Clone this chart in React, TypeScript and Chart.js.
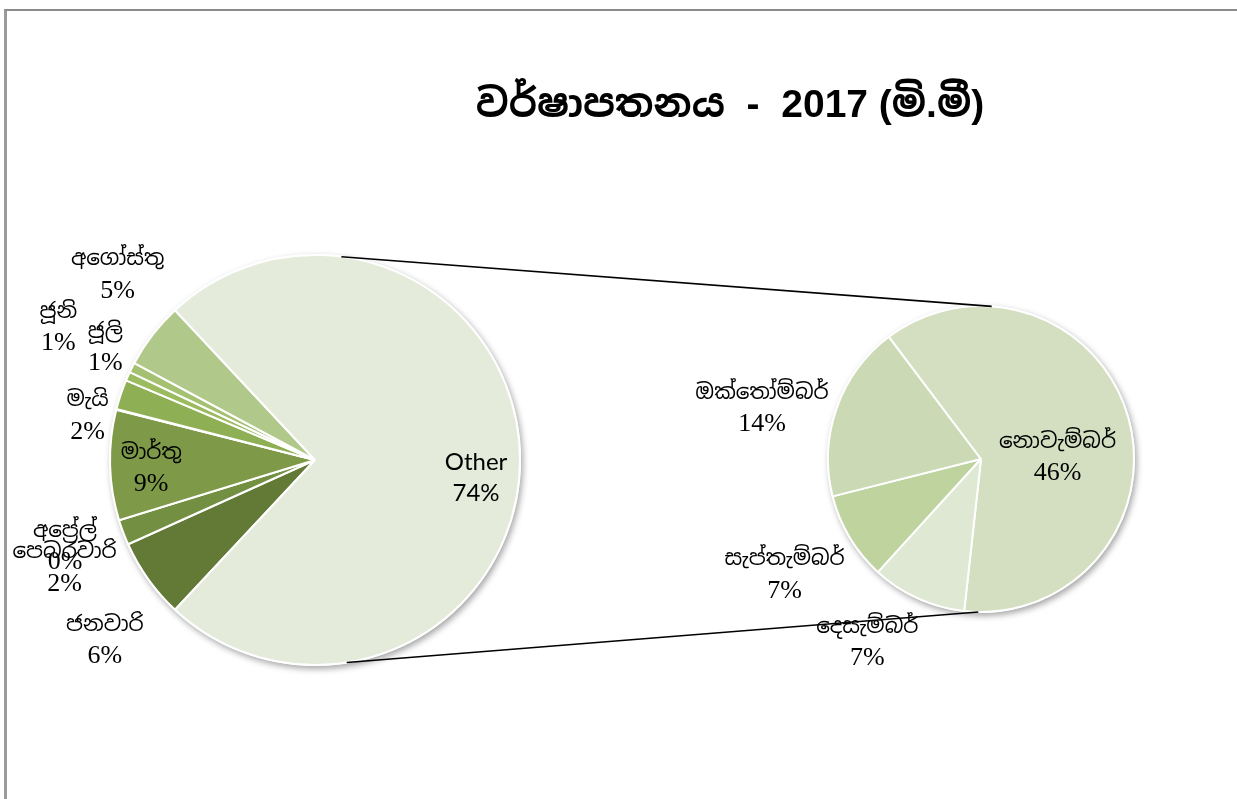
import React, { useEffect, useRef } from "react";
import { Chart, registerables } from "chart.js";
Chart.register(...registerables);

// ---- data (share of annual rainfall) ----
const monthLabels = ["ජනවාරි", "පෙබරවාරි", "මාර්තු", "අප්‍රේල්", "මැයි", "ජූනි", "ජූලි", "අගෝස්තු"];
const monthValues = [6.3, 2.0, 8.7, 0.05, 2.35, 0.7, 0.8, 5.2];
const otherLabel = "Other";
const splitLabels = ["සැප්තැම්බර්", "ඔක්තෝම්බර්", "නොවැම්බර්", "දෙසැම්බර්"];
const splitValues = [6.9, 13.8, 45.9, 7.4];
const titleText = "වර්ෂාපතනය  -  2017 (මි.මී)";

// ---- styles ----
const monthColors = ["#637a36", "#738f41", "#7e9a48", "#86a34c", "#8eaf53", "#9bbb5f", "#a4c171", "#b0c98a"];
const otherColor = "#e4ebdb";
const splitColors = ["#bfd39f", "#cbdab5", "#d3dfc0", "#dee8d2"];
// label placement: [angle nudge (deg), distance as a fraction of radius]
const leftLabelPlace: [number, number][] = [
  [-5, 1.35], [-2.6, 1.33], [-1.4, 0.8], [-33.4, 1.29], [-7.6, 1.13], [3.3, 1.41], [1.4, 1.16], [5.6, 1.32], [6, 0.79],
];
const rightLabelPlace: [number, number][] = [
  [0.4, 1.49], [-6.3, 1.47], [14, 0.5], [7.5, 1.41],
];

const W = 1237;
const H = 799;
const SERIF = "'Liberation Serif', 'Times New Roman', 'Noto Sans Sinhala', serif";

const sum = (a: number[]) => a.reduce((s, v) => s + v, 0);

function shadowPlugin(id: string) {
  return {
    id,
    beforeDatasetsDraw(chart: any) {
      const meta = chart.getDatasetMeta(0);
      const arc = meta.data[0];
      if (!arc) return;
      const { x, y, outerRadius } = arc.getProps(["x", "y", "outerRadius"], true);
      const ctx = chart.ctx;
      ctx.save();
      ctx.shadowColor = "rgba(0,0,0,0.35)";
      ctx.shadowBlur = 6;
      ctx.shadowOffsetX = 2;
      ctx.shadowOffsetY = 3;
      ctx.fillStyle = "#ffffff";
      ctx.beginPath();
      ctx.arc(x, y, outerRadius + 1, 0, Math.PI * 2);
      ctx.fill();
      ctx.restore();
    },
  };
}

function labelPlugin(id: string, place: [number, number][], total: number) {
  return {
    id,
    afterDatasetsDraw(chart: any) {
      const ctx = chart.ctx;
      const meta = chart.getDatasetMeta(0);
      const values = chart.data.datasets[0].data as number[];
      const labels = chart.data.labels as string[];
      meta.data.forEach((arc: any, i: number) => {
        const { x, y, startAngle, endAngle, outerRadius } = arc.getProps(
          ["x", "y", "startAngle", "endAngle", "outerRadius"], true);
        const [nudge, k] = place[i];
        const a = (startAngle + endAngle) / 2 + (nudge * Math.PI) / 180;
        const cx = x + Math.cos(a) * outerRadius * k;
        const cy = y + Math.sin(a) * outerRadius * k;
        const pct = Math.round((values[i] / total) * 100) + "%";
        const isLatin = labels[i] === otherLabel;
        ctx.save();
        ctx.fillStyle = "#000000";
        ctx.textAlign = "center";
        ctx.textBaseline = "middle";
        ctx.font = isLatin ? "24px Lato, 'Open Sans', sans-serif" : `21.5px ${SERIF}`;
        ctx.fillText(labels[i], cx, cy - 15);
        ctx.font = isLatin ? "24px Lato, 'Open Sans', sans-serif" : `26px ${SERIF}`;
        ctx.fillText(pct, cx, cy + 16);
        ctx.restore();
      });
    },
  };
}

export default function App() {
  const leftRef = useRef<HTMLCanvasElement>(null);
  const rightRef = useRef<HTMLCanvasElement>(null);

  useEffect(() => {
    const otherValue = sum(splitValues);
    const total = sum(monthValues) + otherValue;
    const monthsDeg = (sum(monthValues) / total) * 360;
    const splitStartDeg = 132.3;

    const titlePlugin = {
      id: "title",
      afterDraw(chart: any) {
        const ctx = chart.ctx;
        ctx.save();
        ctx.fillStyle = "#000000";
        ctx.textAlign = "center";
        ctx.textBaseline = "middle";
        ctx.font = "bold 39px 'Liberation Sans', Arial, 'Noto Sans Sinhala', sans-serif";
        ctx.fillText(titleText, 730, 106);
        ctx.restore();
      },
    };

    const left = new Chart(leftRef.current!, {
      type: "pie",
      data: {
        labels: [...monthLabels, otherLabel],
        datasets: [{
          data: [...monthValues, otherValue],
          backgroundColor: [...monthColors, otherColor],
          borderColor: "#ffffff",
          borderWidth: 2,
        }],
      },
      options: {
        responsive: false,
        animation: false,
        radius: 205,
        rotation: 90 + 180 - monthsDeg / 2,
        layout: { padding: { left: 0, right: 607, top: 121, bottom: 0 } },
        plugins: { legend: { display: false }, tooltip: { enabled: false }, title: { display: false } },
      },
      plugins: [shadowPlugin("shadowL"), labelPlugin("labelsL", leftLabelPlace, total), titlePlugin],
    });

    const connectorPlugin = {
      id: "connector",
      afterDatasetsDraw(chart: any) {
        const la = left.getDatasetMeta(0).data[0] as any;
        const ra = chart.getDatasetMeta(0).data[0] as any;
        if (!la || !ra) return;
        const L = la.getProps(["x", "y", "outerRadius"], true);
        const R = ra.getProps(["x", "y", "outerRadius"], true);
        const pt = (c: any, deg: number) => [
          c.x + Math.cos((deg * Math.PI) / 180) * c.outerRadius,
          c.y + Math.sin((deg * Math.PI) / 180) * c.outerRadius,
        ];
        const ctx = chart.ctx;
        ctx.save();
        ctx.strokeStyle = "#000000";
        ctx.lineWidth = 1.6;
        const pairs: [number, number][] = [[-82.6, -86], [81.1, 91]];
        pairs.forEach(([la1, ra1]) => {
          const p1 = pt(L, la1);
          const p2 = pt(R, ra1);
          ctx.beginPath();
          ctx.moveTo(p1[0], p1[1]);
          ctx.lineTo(p2[0], p2[1]);
          ctx.stroke();
        });
        ctx.restore();
      },
    };

    const right = new Chart(rightRef.current!, {
      type: "pie",
      data: {
        labels: splitLabels,
        datasets: [{
          data: splitValues,
          backgroundColor: splitColors,
          borderColor: "#ffffff",
          borderWidth: 2,
        }],
      },
      options: {
        responsive: false,
        animation: false,
        radius: 153,
        rotation: splitStartDeg + 90,
        layout: { padding: { left: 725, right: 0, top: 119, bottom: 0 } },
        plugins: { legend: { display: false }, tooltip: { enabled: false }, title: { display: false } },
      },
      plugins: [connectorPlugin, shadowPlugin("shadowR"), labelPlugin("labelsR", rightLabelPlace, total)],
    });

    return () => {
      left.destroy();
      right.destroy();
    };
  }, []);

  return (
    <div style={{ position: "fixed", left: 0, top: 0, width: W, height: H, background: "#ffffff", overflow: "hidden" }}>
      <div style={{
        position: "absolute", left: 4, top: 9, width: W, height: H,
        borderLeft: "3px solid #9a9a9a", borderTop: "2px solid #8a8a8a",
      }} />
      <canvas ref={leftRef} width={W} height={H} style={{ position: "absolute", left: 0, top: 0 }} />
      <canvas ref={rightRef} width={W} height={H} style={{ position: "absolute", left: 0, top: 0 }} />
    </div>
  );
}
